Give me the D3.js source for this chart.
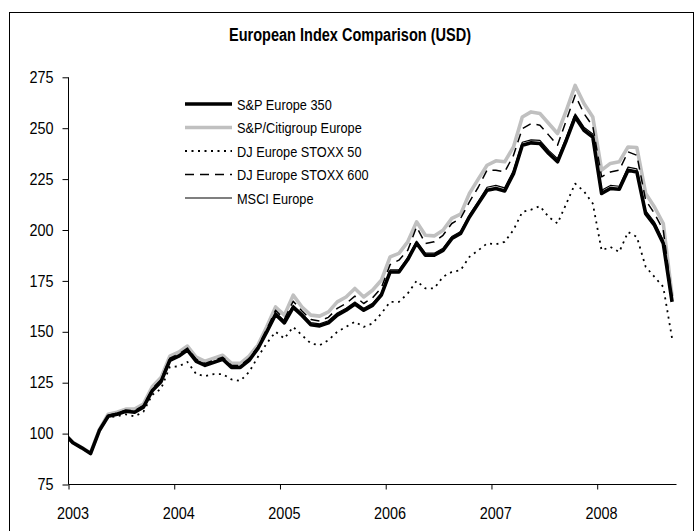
<!DOCTYPE html>
<html>
<head>
<meta charset="utf-8">
<script src="https://cdn.jsdelivr.net/npm/d3@7"></script>
<style>
  html, body { margin: 0; padding: 0; background: #fff; }
  svg { display: block; }
</style>
</head>
<body>
<svg id="chart" width="700" height="531"></svg>
<script>
// ---- Data (monthly, Dec 2002 .. Sep 2008) ----
const startYear = 2002, startMonth = 12, monthCount = 70;
const yTicks = [75, 100, 125, 150, 175, 200, 225, 250, 275];
const xTickYears = [2003, 2004, 2005, 2006, 2007, 2008];

const seriesNames = ["S&P Europe 350", "S&P/Citigroup Europe", "DJ Europe STOXX 50", "DJ Europe STOXX 600", "MSCI Europe"];

const spEurope350 = [100, 95.5, 93, 90.2, 101.5, 108.5, 109.5, 111, 110.5, 113,
  121, 125.5, 136, 138, 141, 135.5, 133.5, 135, 136.5, 132.5,
  132.5, 136, 141.8, 150, 158.5, 154.4, 162, 158, 153.5, 152.9,
  154.4, 158.2, 160.6, 163.6, 160.6, 163, 168, 179.4, 179.4, 185.5,
  193.5, 187.6, 187.6, 190, 195.8, 198.3, 206.4, 213, 219.5, 220.4,
  219.2, 227.7, 241.6, 242.8, 242.5, 237.6, 233.5, 244.1, 255.5, 249,
  245.7, 218, 220.4, 220, 229.4, 228.5, 208, 202.4, 193.4, 164.7];

const spCitigroupEurope = [100, 95.7, 93.2, 90.5, 102, 109.5, 110.5, 112, 112, 114.5,
  123, 127.5, 138, 140, 143, 137.5, 135.5, 137, 138.5, 134.5,
  134.5, 138, 143.5, 152.5, 162.2, 158.2, 168, 162.2, 158.2, 157.7,
  159.8, 164.7, 167.1, 171.3, 167.1, 170.4, 175.3, 186.8, 188.5, 194.2,
  204, 197.4, 197.1, 199.9, 205.7, 207.8, 218, 225, 231.8, 234,
  233.5, 240.8, 255.5, 258, 257.2, 252.3, 247.4, 258.8, 271, 262.1,
  255.5, 229.4, 232.7, 233.5, 240.8, 240.5, 218, 211.3, 203.2, 167.5];

const djStoxx50 = [100, 95.5, 92.8, 90.2, 101, 108, 108.5, 109.5, 108.5, 110.7,
  119, 122, 132.8, 133, 135.2, 129.2, 128.2, 129.2, 129.2, 126.6,
  125.9, 130.3, 137.7, 144.3, 150, 146.7, 152.4, 148.3, 144.3, 143.4,
  145.9, 150, 152.4, 154.9, 152.4, 154.1, 159, 164.7, 164.7, 168.8,
  175, 171.3, 171.3, 177, 179.4, 180.3, 186.8, 190, 193.4, 193,
  194.2, 200, 208.9, 210, 211.7, 206.4, 203.2, 213, 222.8, 219,
  213, 190, 191.7, 189.2, 199, 196.6, 181.9, 177, 172, 146.7];

const djStoxx600 = [100, 95.6, 93, 90.3, 101.8, 109, 110, 111.5, 111.3, 113.8,
  122, 126.5, 137, 139, 142, 136.5, 134.5, 136, 137.5, 133.5,
  133.5, 137, 142.7, 151.3, 160.6, 156.3, 165, 160.2, 156, 155.3,
  157.1, 161.5, 163.9, 167.5, 163.9, 166.7, 171.6, 183, 185.2, 190,
  201.5, 193.4, 194.2, 197.4, 203.2, 205.7, 213.8, 221, 229.4, 229.4,
  228.5, 236.7, 249.8, 252.3, 251.5, 246.6, 241.6, 254, 266.2, 257.2,
  251, 226.1, 228.5, 229.4, 238.4, 236.7, 214.6, 208.1, 200, 166.5];

const msciEurope = [100, 95.7, 93.2, 90.5, 101.8, 108.8, 109.8, 111.3, 110.8, 113.3,
  121.3, 125.8, 136.4, 138.4, 141.4, 136, 134, 135.5, 137, 133,
  133, 136.5, 142.3, 150.5, 159.5, 155.4, 163, 159, 154.5, 153.9,
  155.4, 159.2, 161.6, 164.6, 161.6, 164, 169, 180.4, 180.4, 186.5,
  194.5, 188.6, 188.6, 191, 196.8, 199.3, 207.4, 214, 221, 221.9,
  220.7, 229.2, 243.1, 244.3, 244, 239.1, 235, 245.6, 257, 250.5,
  247.2, 219.5, 221.9, 221.5, 230.9, 230, 209.5, 203.9, 194.9, 165.5];

// point i sits at the middle of its month: year fraction
const monthPos = d3.range(monthCount).map(i => {
  const m = (startMonth - 1) + i;               // months since Jan startYear
  return startYear + (m + 0.5) / 12;
});

// ---- Drawing ----
const svg = d3.select("#chart");
const FONT = "'Liberation Sans', Arial, sans-serif";

function condense(sel, factor) {
  sel.each(function () {
    const len = this.getComputedTextLength();
    d3.select(this).attr("textLength", len * factor).attr("lengthAdjust", "spacingAndGlyphs");
  });
}

// outer frame
svg.append("rect").attr("x", 9.5).attr("y", 12.5).attr("width", 684).attr("height", 540)
  .attr("fill", "none").attr("stroke", "#000").attr("stroke-width", 1);

const x = d3.scaleLinear().domain([2003, 2008.75]).range([68.5, 676.5]);
const y = d3.scaleLinear().domain([75, 275]).range([484.5, 77.3]);

svg.append("text").attr("x", 350).attr("y", 40.5)
  .attr("text-anchor", "middle").attr("font-family", FONT)
  .attr("font-size", 18).attr("font-weight", "bold").attr("fill", "#000")
  .attr("textLength", 242).attr("lengthAdjust", "spacingAndGlyphs")
  .text("European Index Comparison (USD)");

svg.append("clipPath").attr("id", "plotclip").append("rect")
  .attr("x", x(2003)).attr("y", 0).attr("width", x(2008.75) - x(2003)).attr("height", y(75));

const styles = [
  { data: spCitigroupEurope, color: "#c0c0c0", width: 3.6, dash: null },
  { data: djStoxx600, color: "#000", width: 1.5, dash: "9,6" },
  { data: djStoxx50, color: "#000", width: 1.8, dash: "2,4.5" },
  { data: spEurope350, color: "#000", width: 3.6, dash: null },
  { data: msciEurope, color: "#000", width: 1.2, dash: null }
];

const line = d3.line().x((d, i) => x(monthPos[i])).y(d => y(d));

const g = svg.append("g").attr("clip-path", "url(#plotclip)");
styles.forEach(s => {
  g.append("path").datum(s.data).attr("d", line)
    .attr("fill", "none").attr("stroke", s.color).attr("stroke-width", s.width)
    .attr("stroke-linejoin", "round")
    .attr("stroke-dasharray", s.dash);
});

// y axis
const yAxis = d3.axisLeft(y).tickValues(yTicks).tickSize(6).tickPadding(9).tickFormat(d3.format("d"));
const gy = svg.append("g").attr("transform", `translate(${x(2003)},0)`).call(yAxis);
gy.select(".domain").attr("d", `M0,${y(275)}V${y(75)}`).attr("stroke", "#000");
gy.selectAll("text").attr("font-family", FONT).attr("font-size", 16).attr("fill", "#000");
condense(gy.selectAll("text"), 0.9);

// x axis
const xAxis = d3.axisBottom(x).tickValues(xTickYears).tickSize(5).tickFormat("");
const gx = svg.append("g").attr("transform", `translate(0,${y(75)})`).call(xAxis);
gx.select(".domain").attr("d", `M${x(2003)},0H${x(2008.75)}`).attr("stroke", "#000");
const xl = svg.append("g").selectAll("text").data(xTickYears).join("text")
  .attr("x", d => x(d + 0.5 / 12)).attr("y", 519)
  .attr("text-anchor", "middle").attr("font-family", FONT).attr("font-size", 16).attr("fill", "#000")
  .text(d => d);
condense(xl, 0.9);

// legend
const legendOrder = [
  { name: seriesNames[0], color: "#000", width: 3.6, dash: null },
  { name: seriesNames[1], color: "#c0c0c0", width: 3.6, dash: null },
  { name: seriesNames[2], color: "#000", width: 1.8, dash: "2,4.5" },
  { name: seriesNames[3], color: "#000", width: 1.5, dash: "9,6" },
  { name: seriesNames[4], color: "#000", width: 1.2, dash: null }
];
const lg = svg.append("g");
legendOrder.forEach((s, i) => {
  const yy = 104 + i * 23.5;
  lg.append("line").attr("x1", 185).attr("x2", 232).attr("y1", yy).attr("y2", yy)
    .attr("stroke", s.color).attr("stroke-width", s.width).attr("stroke-dasharray", s.dash);
  const t = lg.append("text").attr("x", 237).attr("y", yy + 5.5)
    .attr("font-family", FONT).attr("font-size", 15).attr("fill", "#000").text(s.name);
  condense(t, 0.85);
});
</script>
</body>
</html>
